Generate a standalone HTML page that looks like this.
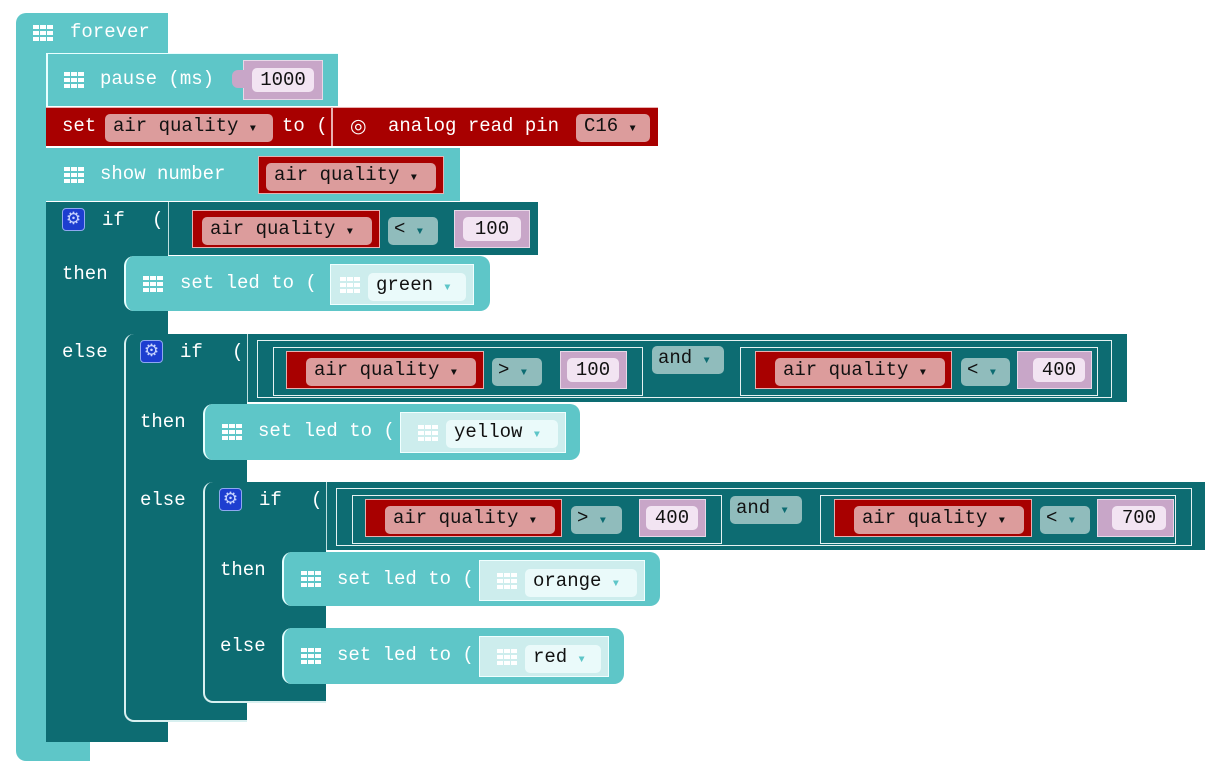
<!DOCTYPE html>
<html><head><meta charset="utf-8"><style>
*{margin:0;padding:0;box-sizing:border-box}
body{width:1224px;height:772px;background:#fff;position:relative;overflow:hidden;font-family:"Liberation Mono",monospace;font-size:19px}
div{position:absolute}
.lt{background:#5ec6c8}
.dk{background:#0d6c72}
.rd{background:#a80000;border:1px solid #e8b0b0}
.t{color:#fff;line-height:24px;white-space:pre}
.b{color:#111;line-height:24px;white-space:pre}
.pill{background:#dc9c9c;border-radius:5px;color:#111;line-height:24px;padding-left:8px;white-space:pre}
.cmp{background:#90bcbc;border-radius:5px;color:#111;line-height:24px;padding-left:6px;white-space:pre}
.num{background:#c8a6c8;border:1px solid #e8d8e8}
.numi{background:#f2e4f2;border-radius:5px;color:#111;line-height:24px;text-align:center}
.col{background:#cdeded;border:1px solid #f0ffff}
.coli{background:#eafafa;border-radius:5px;color:#111;line-height:24px;padding-left:8px;white-space:pre}
.box{border:1.5px solid #e6f2f2}
.grid{width:20px;height:16px;background:
linear-gradient(90deg,transparent 6px,currentColor 6px,currentColor 7px,transparent 7px,transparent 13px,currentColor 13px,currentColor 14px,transparent 14px),
linear-gradient(transparent 4px,currentColor 4px,currentColor 6px,transparent 6px,transparent 10px,currentColor 10px,currentColor 12px,transparent 12px),#fff;color:#5ec6c8}
.gear{width:23px;height:23px;background:#1d3ed0;border:1px solid #8fa8f0;border-radius:4px;color:#c8d4ff;font-size:17px;line-height:20px;text-align:center;font-family:"DejaVu Sans",sans-serif}
.dd{font-size:10px}
</style></head><body>

<!-- forever -->
<div class="lt" style="left:16px;top:13px;width:152px;height:40px;border-radius:10px 0 0 0"></div>
<div class="lt" style="left:16px;top:50px;width:30px;height:700px"></div>
<div class="lt" style="left:16px;top:741px;width:74px;height:20px;border-radius:0 0 0 10px"></div>
<div class="grid" style="left:33px;top:25px;color:#5ec6c8"></div>
<div class="t" style="left:70px;top:20px">forever</div>

<!-- pause -->
<div class="lt" style="left:46px;top:53px;width:292px;height:53px;border-left:2px solid #e8ffff;border-top:1px solid #e8ffff"></div>
<div class="grid" style="left:64px;top:72px"></div>
<div class="t" style="left:100px;top:67px">pause (ms)</div>
<div class="num" style="left:243px;top:60px;width:80px;height:40px"></div>
<div class="num" style="left:232px;top:70px;width:14px;height:18px;border:none;border-radius:6px 0 0 6px"></div>
<div class="numi" style="left:252px;top:68px;width:62px">1000</div>

<!-- set -->
<div class="rd" style="left:46px;top:107px;width:612px;height:39px;border:none;border-top:1px solid #e8b0b0"></div>
<div style="left:331px;top:107px;width:2px;height:39px;background:#e8b0b0"></div>
<div class="t" style="left:62px;top:114px">set</div>
<div class="pill" style="left:105px;top:114px;width:168px">air quality <span class="dd">▼</span></div>
<div class="t" style="left:282px;top:114px">to (</div>
<div class="t" style="left:350px;top:114px;font-family:'DejaVu Sans',sans-serif">◎</div>
<div class="t" style="left:388px;top:114px">analog read pin</div>
<div class="pill" style="left:576px;top:114px;width:74px">C16 <span class="dd">▼</span></div>

<!-- show number -->
<div class="lt" style="left:46px;top:148px;width:414px;height:53px"></div>
<div class="grid" style="left:64px;top:167px"></div>
<div class="t" style="left:100px;top:162px">show number</div>
<div class="rd" style="left:258px;top:156px;width:186px;height:38px"></div>
<div class="pill" style="left:266px;top:163px;width:170px">air quality <span class="dd">▼</span></div>

<!-- if1 -->
<div class="dk" style="left:46px;top:202px;width:492px;height:53px"></div>
<div class="dk" style="left:46px;top:254px;width:122px;height:488px;border-left:0"></div>
<div style="left:44px;top:200px;width:2px;height:0"></div>
<div class="gear" style="left:62px;top:208px">⚙</div>
<div class="t" style="left:102px;top:208px">if</div>
<div class="t" style="left:152px;top:208px">(</div>
<div style="left:168px;top:202px;width:1px;height:53px;background:#bfe0e0"></div>
<div class="rd" style="left:192px;top:210px;width:188px;height:38px"></div>
<div class="pill" style="left:202px;top:217px;width:170px">air quality <span class="dd">▼</span></div>
<div class="cmp" style="left:388px;top:217px;width:50px">&lt; <span class="dd" style="color:#0d6c72">▼</span></div>
<div class="num" style="left:454px;top:210px;width:76px;height:38px"></div>
<div class="numi" style="left:463px;top:217px;width:58px">100</div>
<div class="t" style="left:62px;top:262px">then</div>
<div class="lt" style="left:124px;top:256px;width:366px;height:55px;border-radius:10px;border-left:2px solid #e8ffff"></div>
<div class="grid" style="left:143px;top:276px"></div>
<div class="t" style="left:180px;top:271px">set led to (</div>
<div class="col" style="left:330px;top:264px;width:144px;height:41px"></div>
<div class="grid" style="left:340px;top:277px;color:#cdeded"></div>
<div class="coli" style="left:368px;top:273px;width:98px">green <span class="dd" style="color:#5ec6c8">▼</span></div>
<div class="t" style="left:62px;top:340px">else</div>

<!-- if2 -->
<div class="dk" style="left:124px;top:334px;width:1003px;height:68px;border-left:2px solid #d8f0f0;border-radius:10px 0 0 0"></div>
<div class="dk" style="left:124px;top:400px;width:123px;height:322px;border-left:2px solid #d8f0f0;border-bottom:2px solid #d8f0f0;border-radius:0 0 0 10px"></div>
<div class="gear" style="left:140px;top:340px">⚙</div>
<div class="t" style="left:180px;top:340px">if</div>
<div class="t" style="left:232px;top:340px">(</div>
<div style="left:247px;top:334px;width:1px;height:68px;background:#bfe0e0"></div>
<div class="box" style="left:257px;top:340px;width:855px;height:58px"></div>
<div class="box" style="left:273px;top:347px;width:370px;height:49px"></div>
<div class="rd" style="left:286px;top:351px;width:198px;height:38px"></div>
<div class="pill" style="left:306px;top:358px;width:170px">air quality <span class="dd">▼</span></div>
<div class="cmp" style="left:492px;top:358px;width:50px">&gt; <span class="dd" style="color:#0d6c72">▼</span></div>
<div class="num" style="left:560px;top:351px;width:67px;height:38px"></div>
<div class="numi" style="left:567px;top:358px;width:52px">100</div>
<div class="cmp" style="left:652px;top:346px;width:72px">and <span class="dd" style="color:#0d6c72">▼</span></div>
<div class="box" style="left:740px;top:347px;width:358px;height:49px"></div>
<div class="rd" style="left:755px;top:351px;width:197px;height:38px"></div>
<div class="pill" style="left:775px;top:358px;width:170px">air quality <span class="dd">▼</span></div>
<div class="cmp" style="left:961px;top:358px;width:49px">&lt; <span class="dd" style="color:#0d6c72">▼</span></div>
<div class="num" style="left:1017px;top:351px;width:75px;height:38px"></div>
<div class="numi" style="left:1033px;top:358px;width:52px">400</div>
<div class="t" style="left:140px;top:410px">then</div>
<div class="lt" style="left:203px;top:404px;width:377px;height:56px;border-radius:10px;border-left:2px solid #e8ffff"></div>
<div class="grid" style="left:222px;top:424px"></div>
<div class="t" style="left:258px;top:419px">set led to (</div>
<div class="col" style="left:400px;top:412px;width:166px;height:41px"></div>
<div class="grid" style="left:418px;top:425px;color:#cdeded"></div>
<div class="coli" style="left:446px;top:420px;width:112px">yellow <span class="dd" style="color:#5ec6c8">▼</span></div>
<div class="t" style="left:140px;top:488px">else</div>

<!-- if3 -->
<div class="dk" style="left:203px;top:482px;width:1002px;height:68px;border-left:2px solid #d8f0f0;border-radius:10px 0 0 0"></div>
<div class="dk" style="left:203px;top:548px;width:123px;height:155px;border-left:2px solid #d8f0f0;border-bottom:2px solid #d8f0f0;border-radius:0 0 0 10px"></div>
<div class="gear" style="left:219px;top:488px">⚙</div>
<div class="t" style="left:259px;top:488px">if</div>
<div class="t" style="left:311px;top:488px">(</div>
<div style="left:326px;top:482px;width:1px;height:68px;background:#bfe0e0"></div>
<div class="box" style="left:336px;top:488px;width:856px;height:58px"></div>
<div class="box" style="left:352px;top:495px;width:370px;height:49px"></div>
<div class="rd" style="left:365px;top:499px;width:197px;height:38px"></div>
<div class="pill" style="left:385px;top:506px;width:170px">air quality <span class="dd">▼</span></div>
<div class="cmp" style="left:571px;top:506px;width:51px">&gt; <span class="dd" style="color:#0d6c72">▼</span></div>
<div class="num" style="left:639px;top:499px;width:67px;height:38px"></div>
<div class="numi" style="left:646px;top:506px;width:52px">400</div>
<div class="cmp" style="left:730px;top:496px;width:72px">and <span class="dd" style="color:#0d6c72">▼</span></div>
<div class="box" style="left:820px;top:495px;width:356px;height:49px"></div>
<div class="rd" style="left:834px;top:499px;width:198px;height:38px"></div>
<div class="pill" style="left:854px;top:506px;width:170px">air quality <span class="dd">▼</span></div>
<div class="cmp" style="left:1040px;top:506px;width:50px">&lt; <span class="dd" style="color:#0d6c72">▼</span></div>
<div class="num" style="left:1097px;top:499px;width:77px;height:38px"></div>
<div class="numi" style="left:1112px;top:506px;width:54px">700</div>
<div class="t" style="left:220px;top:558px">then</div>
<div class="lt" style="left:282px;top:552px;width:378px;height:54px;border-radius:10px;border-left:2px solid #e8ffff"></div>
<div class="grid" style="left:301px;top:571px"></div>
<div class="t" style="left:337px;top:567px">set led to (</div>
<div class="col" style="left:479px;top:560px;width:166px;height:41px"></div>
<div class="grid" style="left:497px;top:573px;color:#cdeded"></div>
<div class="coli" style="left:525px;top:569px;width:112px">orange <span class="dd" style="color:#5ec6c8">▼</span></div>
<div class="t" style="left:220px;top:634px">else</div>
<div class="lt" style="left:282px;top:628px;width:342px;height:56px;border-radius:10px;border-left:2px solid #e8ffff"></div>
<div class="grid" style="left:301px;top:648px"></div>
<div class="t" style="left:337px;top:643px">set led to (</div>
<div class="col" style="left:479px;top:636px;width:130px;height:41px"></div>
<div class="grid" style="left:497px;top:649px;color:#cdeded"></div>
<div class="coli" style="left:525px;top:645px;width:76px">red <span class="dd" style="color:#5ec6c8">▼</span></div>

</body></html>
